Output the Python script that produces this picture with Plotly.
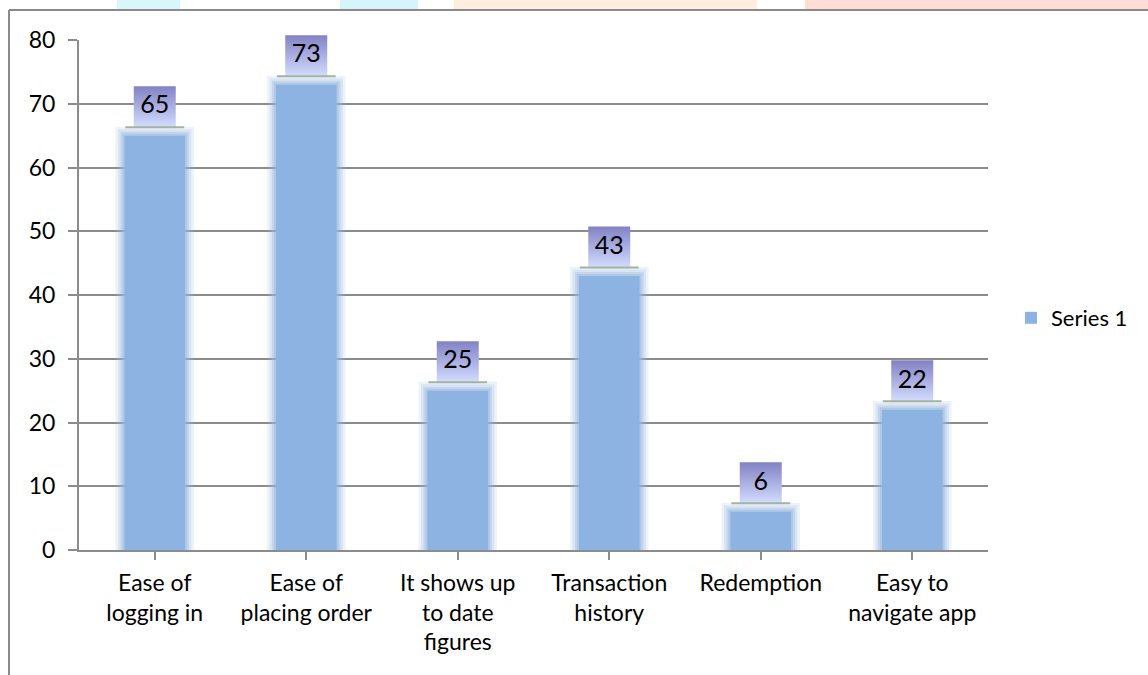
import plotly.graph_objects as go

# Survey responses: what users like about the app
categories = [
    "Ease of<br>logging in",
    "Ease of<br>placing order",
    "It shows up<br>to date<br>figures",
    "Transaction<br>history",
    "Redemption",
    "Easy to<br>navigate app",
]
values = [65, 73, 25, 43, 6, 22]
series_name = "Series 1"
y_ticks = [0, 10, 20, 30, 40, 50, 60, 70, 80]

W, H = 1148, 675
L, R, T, B = 79, 160, 40, 125
FONT = "Lato"
GRID = "#8C8C8C"
BAR = "#8DB3E2"

x_idx = list(range(len(categories)))
unit_px = (H - T - B) / 80.0


def px_x(p):
    return (p - L) / (W - L - R)


def px_y(p):
    return (H - B - p) / (H - T - B)


fig = go.Figure()

# soft halo around each bar, built from widening translucent outlines
for lw, alpha in [(18, 0.16), (13, 0.22), (8, 0.32), (4, 0.42)]:
    fig.add_trace(go.Bar(
        x=x_idx, y=values, width=0.40,
        marker=dict(color="rgba(0,0,0,0)",
                    line=dict(color=f"rgba(150,182,222,{alpha})", width=lw)),
        showlegend=False, hoverinfo="skip",
    ))

fig.add_trace(go.Bar(
    x=x_idx, y=values, width=0.40, name=series_name,
    marker=dict(color=BAR, line=dict(width=0)),
    showlegend=True,
))

# value labels in gradient boxes sitting above each bar
label_lift = 28.5 / unit_px
label_y = [v + label_lift for v in values]
fig.add_trace(go.Scatter(
    x=x_idx, y=label_y,
    mode="markers+text",
    text=[str(v) for v in values],
    textposition="middle center",
    textfont=dict(family=FONT, size=25, color="#000000"),
    marker=dict(symbol="square", size=42, color="#8282C4",
                gradient=dict(type="vertical", color="#D4DEFF"),
                line=dict(width=0)),
    showlegend=False, hoverinfo="skip", cliponaxis=False,
))
# thin grey-green rule under each label box
fig.add_trace(go.Scatter(
    x=x_idx, y=[y - 20.0 / unit_px for y in label_y],
    mode="markers",
    marker=dict(symbol="line-ew", size=42,
                line=dict(color="#A3B3A0", width=2)),
    showlegend=False, hoverinfo="skip", cliponaxis=False,
))

shapes = []
# faint decorative band along the very top edge
for x0, x1, col in [(117, 180, "#D8F7FB"), (340, 418, "#D5F5FB"),
                    (454, 757, "#FFEEDD"), (805, 1148, "#FFDCD6")]:
    shapes.append(dict(type="rect", xref="paper", yref="paper",
                       x0=px_x(x0), x1=px_x(x1), y0=px_y(10), y1=px_y(0),
                       fillcolor=col, line=dict(width=0), layer="below"))
# chart frame (left and top edges)
shapes.append(dict(type="line", xref="paper", yref="paper",
                   x0=px_x(9), x1=px_x(W), y0=px_y(10), y1=px_y(10),
                   line=dict(color="#8A8A8A", width=2)))
shapes.append(dict(type="line", xref="paper", yref="paper",
                   x0=px_x(9), x1=px_x(9), y0=px_y(10), y1=px_y(H),
                   line=dict(color="#8A8A8A", width=2)))

fig.update_layout(
    width=W, height=H,
    margin=dict(l=L, r=R, t=T, b=B, autoexpand=False),
    paper_bgcolor="white", plot_bgcolor="white",
    barmode="overlay", bargap=0.6,
    font=dict(family=FONT, size=23, color="#000000"),
    shapes=shapes,
    legend=dict(x=px_x(1011), y=px_y(318), xanchor="left", yanchor="middle",
                font=dict(family=FONT, size=22, color="#000000"),
                bgcolor="rgba(0,0,0,0)", itemsizing="constant"),
    xaxis=dict(
        tickmode="array", tickvals=x_idx, ticktext=categories,
        range=[-0.5, len(categories) - 0.5],
        showline=True, linecolor=GRID, linewidth=2,
        ticks="outside", tickson="boundaries", ticklen=8,
        tickcolor=GRID, tickwidth=2,
        showgrid=False, zeroline=False, ticklabelstandoff=3,
        tickfont=dict(family=FONT, size=23),
    ),
    yaxis=dict(
        range=[0, 80], tickmode="array", tickvals=y_ticks,
        showline=True, linecolor=GRID, linewidth=2,
        ticks="outside", ticklen=9, tickcolor=GRID, tickwidth=2,
        showgrid=True, gridcolor=GRID, gridwidth=2,
        zeroline=False, ticklabelstandoff=8,
        tickfont=dict(family=FONT, size=23),
    ),
)

fig.write_html("out.html")
